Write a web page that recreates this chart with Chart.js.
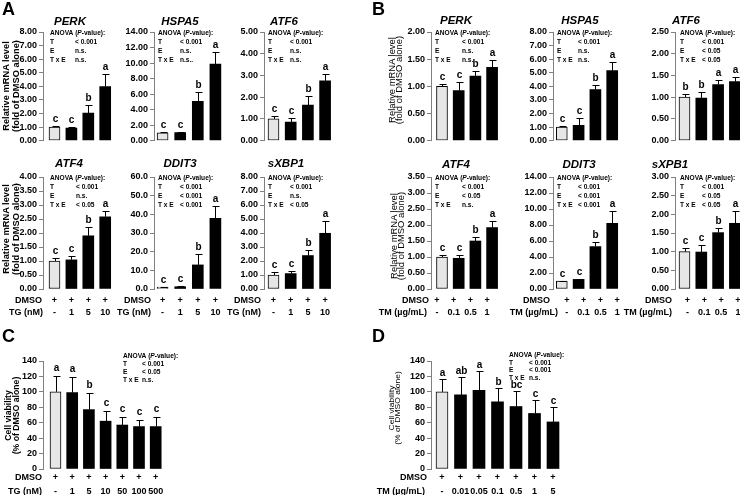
<!DOCTYPE html>
<html><head><meta charset="utf-8">
<script src="https://cdn.jsdelivr.net/npm/chart.js@4"></script>
<style>
html,body{margin:0;padding:0;background:#fff}
body{width:740px;height:495px;position:relative;overflow:hidden;font-family:'Liberation Sans',Arial,sans-serif;color:#000}
canvas{position:absolute}
.pl{position:absolute;font-weight:bold;font-size:18px;line-height:18px}
.yl{position:absolute;white-space:nowrap;text-align:center}
</style></head><body>
<script>
const F = "'Liberation Sans', Arial, sans-serif";

// ---------- category / dose labels ----------
const dmso4 = ['+', '+', '+', '+'];
const dmso7 = ['+', '+', '+', '+', '+', '+', '+'];
const tgDose = ['-', '1', '5', '10'];
const tmDose = ['-', '0.1', '0.5', '1'];
const tgDoseC = ['-', '1', '5', '10', '50', '100', '500'];
const tmDoseD = ['-', '0.01', '0.05', '0.1', '0.5', '1', '5'];

// ---------- Panel A (TG) ----------
const aPERK = [1.00, 0.93, 2.03, 3.98];
const aPERKsd = [0.10, 0.04, 0.59, 0.92];
const aPERKsig = ['c', 'c', 'b', 'a'];
const aPERKstat = ['< 0.001', 'n.s.', 'n.s.'];

const aHSPA5 = [1.00, 1.05, 5.05, 9.85];
const aHSPA5sd = [0.10, 0.10, 1.25, 1.60];
const aHSPA5sig = ['c', 'c', 'b', 'a'];
const aHSPA5stat = ['< 0.001', 'n.s.', 'n.s..'];

const aATF6 = [1.00, 0.85, 1.63, 2.75];
const aATF6sd = [0.13, 0.20, 0.42, 0.32];
const aATF6sig = ['c', 'c', 'b', 'a'];
const aATF6stat = ['< 0.001', 'n.s.', 'n.s.'];

const aATF4 = [1.00, 1.04, 1.90, 2.58];
const aATF4sd = [0.12, 0.13, 0.32, 0.19];
const aATF4sig = ['c', 'c', 'b', 'a'];
const aATF4stat = ['< 0.001', 'n.s.', '< 0.05'];

const aDDIT3 = [1.0, 1.2, 12.9, 37.8];
const aDDIT3sd = [0.3, 0.3, 5.7, 6.6];
const aDDIT3sig = ['c', 'c', 'b', 'a'];
const aDDIT3stat = ['< 0.001', '< 0.001', '< 0.001'];

const aXBP1 = [1.00, 1.10, 2.39, 3.98];
const aXBP1sd = [0.20, 0.20, 0.42, 0.89];
const aXBP1sig = ['c', 'c', 'b', 'a'];
const aXBP1stat = ['< 0.001', 'n.s.', '< 0.05'];

// ---------- Panel B (TM) ----------
const bPERK = [1.00, 0.92, 1.19, 1.35];
const bPERKsd = [0.04, 0.16, 0.10, 0.14];
const bPERKsig = ['c', 'c', 'b', 'a'];
const bPERKstat = ['< 0.001', 'n.s.', 'n.s.'];

const bHSPA5 = [1.00, 1.13, 3.75, 5.15];
const bHSPA5sd = [0.05, 0.55, 0.33, 0.65];
const bHSPA5sig = ['c', 'c', 'b', 'a'];
const bHSPA5stat = ['< 0.001', 'n.s.', 'n.s.'];

const bATF6 = [1.00, 0.98, 1.29, 1.36];
const bATF6sd = [0.07, 0.13, 0.10, 0.11];
const bATF6sig = ['b', 'b', 'a', 'a'];
const bATF6stat = ['< 0.001', '< 0.05', '< 0.05'];

const bATF4 = [1.00, 0.96, 1.50, 1.92];
const bATF4sd = [0.05, 0.10, 0.14, 0.21];
const bATF4sig = ['c', 'c', 'b', 'a'];
const bATF4stat = ['< 0.001', '< 0.05', 'n.s.'];

const bDDIT3 = [1.00, 1.20, 5.30, 8.20];
const bDDIT3sd = [0.05, 0.08, 0.55, 1.50];
const bDDIT3sig = ['c', 'c', 'b', 'a'];
const bDDIT3stat = ['< 0.001', '< 0.001', '< 0.001'];

const bXPB1 = [1.00, 0.99, 1.51, 1.76];
const bXPB1sd = [0.10, 0.18, 0.12, 0.33];
const bXPB1sig = ['c', 'c', 'b', 'a'];
const bXPB1stat = ['< 0.001', '< 0.05', '< 0.05'];

// ---------- Panel C / D (viability) ----------
const cViab = [100, 99, 77, 62, 57, 55, 55];
const cViabSd = [21, 20, 21, 13, 10, 9, 12];
const cViabSig = ['a', 'a', 'b', 'c', 'c', 'c', 'c'];
const cViabStat = ['< 0.001', '< 0.05', 'n.s.'];

const dViab = [100, 96, 102, 87, 81, 72, 61];
const dViabSd = [17, 23, 25, 18, 20, 17, 19];
const dViabSig = ['a', 'ab', 'a', 'b', 'bc', 'c', 'c'];
const dViabStat = ['< 0.001', '< 0.001', 'n.s.'];

// ---------- chart table ----------
const charts = [
  // Panel A top
  {vals:aPERK, sd:aPERKsd, sig:aPERKsig, stat:aPERKstat, title:'PERK', tx:70, ty:22,
   axis:43, top:32, bot:144, x0:11.5, dx:16.9, bw:11, yMax:8, step:1, dec:2, ax:50, avx:75},
  {vals:aHSPA5, sd:aHSPA5sd, sig:aHSPA5sig, stat:aHSPA5stat, title:'HSPA5', tx:180, ty:22,
   axis:154, top:32, bot:144, x0:8.6, dx:17.6, bw:11, yMax:14, step:2, dec:2, ax:158, avx:180},
  {vals:aATF6, sd:aATF6sd, sig:aATF6sig, stat:aATF6stat, title:'ATF6', tx:284, ty:22,
   axis:264, top:32, bot:144, x0:9.5, dx:17.2, bw:11, yMax:5, step:1, dec:2, ax:268, avx:290},
  // Panel A bottom
  {vals:aATF4, sd:aATF4sd, sig:aATF4sig, stat:aATF4stat, title:'ATF4', tx:69, ty:164,
   axis:43, top:177, bot:289, x0:11.5, dx:16.9, bw:11, yMax:4, step:0.5, dec:2, ax:50, avx:76,
   rows:[['DMSO', dmso4], ['TG (nM)', tgDose]], rowY:[301, 313], rowR:[42, 43], rowDx:0},
  {vals:aDDIT3, sd:aDDIT3sd, sig:aDDIT3sig, stat:aDDIT3stat, title:'DDIT3', tx:180, ty:164,
   axis:154, top:177, bot:289, x0:8.6, dx:17.6, bw:11, yMax:60, step:10, dec:1, ax:158, avx:180,
   rows:[['DMSO', dmso4], ['TG (nM)', tgDose]], rowY:[301, 313], rowR:[151, 151], rowDx:0},
  {vals:aXBP1, sd:aXBP1sd, sig:aXBP1sig, stat:aXBP1stat, title:'sXBP1', tx:286, ty:164,
   axis:264, top:177, bot:289, x0:9.5, dx:17.2, bw:11, yMax:8, step:1, dec:2, ax:268, avx:290,
   rows:[['DMSO', dmso4], ['TG (nM)', tgDose]], rowY:[301, 313], rowR:[261, 261], rowDx:0},
  // Panel B top
  {vals:bPERK, sd:bPERKsd, sig:bPERKsig, stat:bPERKstat, title:'PERK', tx:456, ty:21,
   axis:431, top:32, bot:144, x0:11, dx:16.7, bw:11, yMax:2, step:0.5, dec:2, ax:435, avx:462},
  {vals:bHSPA5, sd:bHSPA5sd, sig:bHSPA5sig, stat:bHSPA5stat, title:'HSPA5', tx:580, ty:21,
   axis:553, top:32, bot:144, x0:8.8, dx:16.8, bw:11, yMax:8, step:1, dec:2, ax:557, avx:578},
  {vals:bATF6, sd:bATF6sd, sig:bATF6sig, stat:bATF6stat, title:'ATF6', tx:686, ty:21,
   axis:675, top:32, bot:144, x0:9.5, dx:16.8, bw:11, yMax:2.5, step:0.5, dec:2, ax:680, avx:702},
  // Panel B bottom
  {vals:bATF4, sd:bATF4sd, sig:bATF4sig, stat:bATF4stat, title:'ATF4', tx:456, ty:164.5,
   axis:431, top:177, bot:289, x0:11, dx:16.7, bw:11, yMax:3.5, step:0.5, dec:2, ax:435, avx:462,
   rows:[['DMSO', dmso4], ['TM (\u00b5g/mL)', tmDose]], rowY:[301, 313], rowR:[429, 427], rowDx:-5},
  {vals:bDDIT3, sd:bDDIT3sd, sig:bDDIT3sig, stat:bDDIT3stat, title:'DDIT3', tx:579, ty:164.5,
   axis:553, top:177, bot:289, x0:8.8, dx:16.8, bw:11, yMax:14, step:2, dec:2, ax:557, avx:578,
   rows:[['DMSO', dmso4], ['TM (\u00b5g/mL)', tmDose]], rowY:[301, 313], rowR:[550, 558], rowDx:5},
  {vals:bXPB1, sd:bXPB1sd, sig:bXPB1sig, stat:bXPB1stat, title:'sXPB1', tx:670, ty:164.5,
   axis:675, top:177, bot:289, x0:9.5, dx:16.8, bw:11, yMax:3, step:0.5, dec:2, ax:680, avx:702,
   rows:[['DMSO', dmso4], ['TM (\u00b5g/mL)', tmDose]], rowY:[301, 313], rowR:[672, 672], rowDx:3},
  // Panel C
  {vals:cViab, sd:cViabSd, sig:cViabSig, stat:cViabStat, title:'', gap:6,
   axis:43, top:361, bot:469, x0:12.5, dx:16.7, bw:11, yMax:140, step:20, dec:0, ax:123, avx:142, ay:356, als:8.2, padR:30,
   rows:[['DMSO', dmso7], ['TG (nM)', tgDoseC]], rowY:[478, 492], rowR:[42, 42], rowDx:0},
  // Panel D
  {vals:dViab, sd:dViabSd, sig:dViabSig, stat:dViabStat, title:'', gap:4,
   axis:431, top:361, bot:469, x0:11, dx:18.5, bw:12, yMax:140, step:20, dec:0, ax:509, avx:529, ay:355, als:7.7, padR:40,
   rows:[['DMSO', dmso7], ['TM (\u00b5g/mL)', tmDoseD]], rowY:[478, 492], rowR:[427, 425], rowDx:0}
];

const annot = {
  id: 'annot',
  afterDatasetsDraw(chart, args, o) {
    const c = o.cfg, L = o.left, T = o.top;
    const ctx = chart.ctx, xs = chart.scales.x, ys = chart.scales.y;
    ctx.save();
    ctx.fillStyle = '#000';
    ctx.strokeStyle = '#000';
    ctx.lineWidth = 1;
    const gap = c.gap || 5;
    // error bars + letters
    c.vals.forEach((v, i) => {
      const x = Math.round(xs.getPixelForValue(i)) + 0.5;
      const y0 = ys.getPixelForValue(v);
      const y1 = Math.round(ys.getPixelForValue(v + c.sd[i])) + 0.5;
      ctx.beginPath();
      ctx.moveTo(x, y0); ctx.lineTo(x, y1);
      ctx.moveTo(x - 3, y1); ctx.lineTo(x + 4, y1);
      ctx.stroke();
      ctx.font = 'bold 10px ' + F;
      ctx.textAlign = 'center';
      ctx.textBaseline = 'alphabetic';
      ctx.fillText(c.sig[i], x, y1 - gap);
    });
    // title
    if (c.title) {
      ctx.font = 'italic bold 11.5px ' + F;
      ctx.textAlign = 'center';
      ctx.textBaseline = 'middle';
      ctx.fillText(c.title, c.tx - L, c.ty - T);
    }
    // ANOVA block
    const ay = (c.ay !== undefined ? c.ay : c.top + 1.5) - T;
    const ls = c.als || 8.8;
    const ax = c.ax - L, avx = c.avx - L;
    ctx.textAlign = 'left';
    ctx.textBaseline = 'middle';
    const fN = 'bold 6.6px ' + F, fI = 'italic bold 6.6px ' + F;
    ctx.font = fN;
    let px = ax;
    ctx.fillText('ANOVA (', px, ay); px += ctx.measureText('ANOVA (').width;
    ctx.font = fI; ctx.fillText('P', px, ay); px += ctx.measureText('P').width;
    ctx.font = fN; ctx.fillText('-value):', px, ay);
    ['T', 'E', 'T x E'].forEach((lab, k) => {
      const yy = ay + ls * (k + 1);
      ctx.fillText(lab, ax, yy);
      ctx.fillText(c.stat[k], avx, yy);
    });
    // dose rows
    if (c.rows) {
      ctx.font = 'bold 9px ' + F;
      ctx.textBaseline = 'middle';
      c.rows.forEach((r, k) => {
        const yy = c.rowY[k] - T;
        ctx.textAlign = 'right';
        ctx.fillText(r[0], c.rowR[k] - L, yy);
        ctx.textAlign = 'center';
        r[1].forEach((s, i) => ctx.fillText(s, xs.getPixelForValue(i) + c.rowDx, yy));
      });
    }
    ctx.restore();
  }
};

function build(c) {
  const extraL = 22, axisW = 50;
  const padL = extraL + axisW, padT = 36, padR = c.padR || 10, padB = c.rows ? 34 : 4;
  const n = c.vals.length;
  const plotW = Math.round(c.x0 + (n - 1) * c.dx + c.bw / 2 + 3);
  const plotH = c.bot - c.top;
  const W = padL + plotW + padR, H = padT + plotH + padB;
  const left = c.axis - padL, top = c.top - padT;
  const xMin = -c.x0 / c.dx, xMax = xMin + plotW / c.dx;
  const cv = document.createElement('canvas');
  cv.width = W; cv.height = H;
  cv.style.left = left + 'px'; cv.style.top = top + 'px';
  cv.style.width = W + 'px'; cv.style.height = H + 'px';
  document.body.appendChild(cv);
  new Chart(cv, {
    type: 'bar',
    data: {
      datasets: [{
        data: c.vals.map((v, i) => ({x: i, y: v})),
        backgroundColor: c.vals.map((_, i) => i === 0 ? '#e6e6e6' : '#000'),
        borderColor: '#000',
        borderWidth: c.vals.map((_, i) => i === 0 ? 1 : 0),
        borderSkipped: false,
        barThickness: c.bw
      }]
    },
    options: {
      responsive: false, animation: false, devicePixelRatio: 1,
      layout: {padding: {left: extraL, top: padT, right: padR, bottom: padB}},
      plugins: {legend: {display: false}, tooltip: {enabled: false}, title: {display: false},
        annot: {cfg: c, left: left, top: top}},
      scales: {
        x: {type: 'linear', display: false, min: xMin, max: xMax, offset: false},
        y: {
          min: 0, max: c.yMax,
          afterFit: s => { s.width = axisW; },
          ticks: {stepSize: c.step, autoSkip: false, padding: 2, color: '#000',
            font: {family: F, size: 9, weight: 'bold'},
            callback: v => Number(v).toFixed(c.dec)},
          grid: {display: true, drawOnChartArea: false, drawTicks: true, tickLength: 4, color: '#808080', lineWidth: 1},
          border: {display: true, color: '#808080', width: 1}
        }
      }
    },
    plugins: [annot]
  });
}
charts.forEach(build);

// y-axis titles & panel letters
function ylab(cx, cy, lines, size, lh, weight, sx) {
  const d = document.createElement('div');
  d.className = 'yl';
  const w = 150, h = lh * lines.length;
  d.style.left = (cx - w / 2) + 'px';
  d.style.top = (cy - h / 2) + 'px';
  d.style.width = w + 'px';
  d.style.height = h + 'px';
  d.style.fontSize = size + 'px';
  d.style.lineHeight = lh + 'px';
  d.style.fontWeight = weight;
  d.style.transform = 'rotate(-90deg) scale(' + (sx || 1) + ',1)';
  d.innerHTML = lines.join('<br>');
  document.body.appendChild(d);
}
const mrnaLab = ['Relative mRNA level', '(fold of DMSO alone)'];
const viabLab = ['Cell viability', '(% of DMSO alone)'];
ylab(10.5, 86, mrnaLab, 9.3, 10, 'bold', 1);
ylab(10.5, 229, mrnaLab, 9.3, 10, 'bold', 1);
ylab(396, 80, mrnaLab, 8.2, 7, 'normal', 1.15);
ylab(398, 236, mrnaLab, 8.2, 7, 'normal', 1.15);
ylab(12, 415, viabLab, 8.5, 7.5, 'bold', 1.02);
ylab(395, 408, viabLab, 7.4, 6, 'normal', 1.15);

function plab(t, x, y) {
  const d = document.createElement('div');
  d.className = 'pl'; d.textContent = t;
  d.style.left = x + 'px'; d.style.top = y + 'px';
  document.body.appendChild(d);
}
plab('A', 2, 0); plab('B', 372, 0); plab('C', 2, 327); plab('D', 372, 327);
</script>
</body></html>
